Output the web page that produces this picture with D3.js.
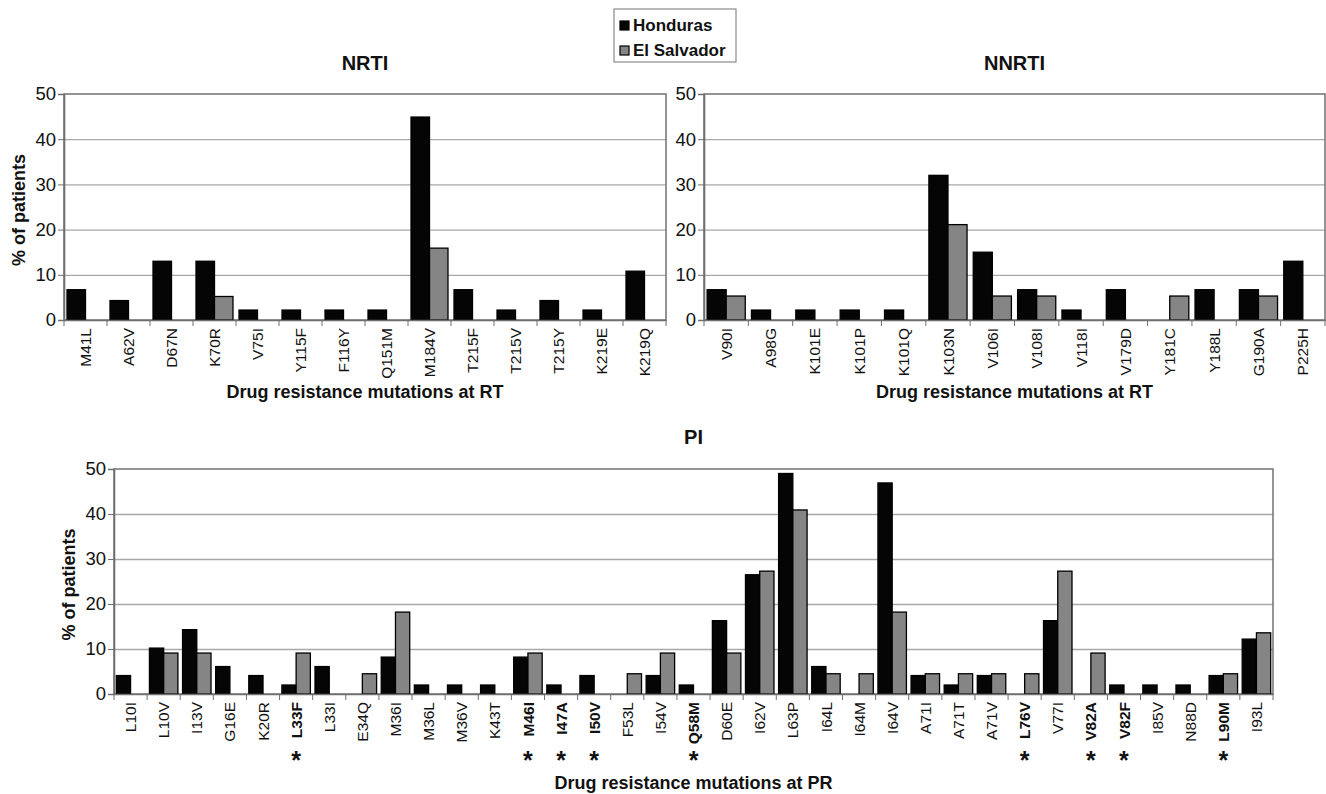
<!DOCTYPE html>
<html>
<head>
<meta charset="utf-8">
<script src="https://cdn.jsdelivr.net/npm/d3@7"></script>
<style>
  body { margin: 0; background: #fff; }
  text { font-family: "Liberation Sans", Arial, sans-serif; fill: #111; }
</style>
</head>
<body>
<div id="chart"></div>
<script>
// values (% of patients)
const nrtiMutations = ["M41L","A62V","D67N","K70R","V75I","Y115F","F116Y","Q151M","M184V","T215F","T215V","T215Y","K219E","K219Q"];
const nrtiHonduras  = [6.7, 4.3, 13.0, 13.0, 2.2, 2.2, 2.2, 2.2, 44.9, 6.7, 2.2, 4.3, 2.2, 10.8];
const nrtiSalvador  = [0, 0, 0, 5.2, 0, 0, 0, 0, 15.9, 0, 0, 0, 0, 0];

const nnrtiMutations = ["V90I","A98G","K101E","K101P","K101Q","K103N","V106I","V108I","V118I","V179D","Y181C","Y188L","G190A","P225H"];
const nnrtiHonduras  = [6.7, 2.2, 2.2, 2.2, 2.2, 32.0, 15.0, 6.7, 2.2, 6.7, 0, 6.7, 6.7, 13.0];
const nnrtiSalvador  = [5.3, 0, 0, 0, 0, 21.1, 5.3, 5.3, 0, 0, 5.3, 0, 5.3, 0];

const piMutations = ["L10I","L10V","I13V","G16E","K20R","L33F","L33I","E34Q","M36I","M36L","M36V","K43T","M46I","I47A","I50V","F53L","I54V","Q58M","D60E","I62V","L63P","I64L","I64M","I64V","A71I","A71T","A71V","L76V","V77I","V82A","V82F","I85V","N88D","L90M","I93L"];
const piHonduras  = [4.1, 10.2, 14.3, 6.1, 4.1, 2.0, 6.1, 0, 8.2, 2.0, 2.0, 2.0, 8.2, 2.0, 4.1, 0, 4.1, 2.0, 16.3, 26.5, 49.0, 6.1, 0, 46.9, 4.1, 2.0, 4.1, 0, 16.3, 0, 2.0, 2.0, 2.0, 4.1, 12.2];
const piSalvador  = [0, 9.1, 9.1, 0, 0, 9.1, 0, 4.5, 18.2, 0, 0, 0, 9.1, 0, 0, 4.5, 9.1, 0, 9.1, 27.3, 40.9, 4.5, 4.5, 18.2, 4.5, 4.5, 4.5, 4.5, 27.3, 9.1, 0, 0, 0, 4.5, 13.6];
// major PI mutations, shown bold with an asterisk
const piMajor = ["L33F","M46I","I47A","I50V","Q58M","L76V","V82A","V82F","L90M"];

const countries = ["Honduras", "El Salvador"];
const yTicks = [0, 10, 20, 30, 40, 50];

const colors = { "Honduras": "#050505", "El Salvador": "#858585" };

const svg = d3.select("#chart").append("svg")
  .attr("width", 1326)
  .attr("height", 794);

function drawPanel(p) {
  const rows = p.cats.map((c, i) => ({ cat: c, "Honduras": p.hon[i], "El Salvador": p.sal[i] }));

  const x = d3.scaleBand().domain(p.cats).range([p.left, p.right]);
  const bw = x.bandwidth();
  const xSub = d3.scaleBand().domain(countries).range([bw * 0.07, bw * 0.93]);
  const y = d3.scaleLinear().domain([0, 50]).range([p.bottom, p.top]);

  const g = svg.append("g");

  // grid lines
  g.append("g")
    .attr("transform", `translate(${p.left},0)`)
    .call(d3.axisLeft(y).tickValues([10, 20, 30, 40]).tickSize(-(p.right - p.left)).tickFormat(""))
    .call(s => s.select(".domain").remove())
    .call(s => s.selectAll("line").attr("stroke", "#a8a8a8").attr("stroke-width", 1.3));

  // frame
  g.append("rect")
    .attr("x", p.left).attr("y", p.top)
    .attr("width", p.right - p.left).attr("height", p.bottom - p.top)
    .attr("fill", "none").attr("stroke", "#7a7a7a").attr("stroke-width", 1.6);

  // bars
  g.selectAll(".grp")
    .data(rows)
    .enter()
    .append("g")
    .attr("transform", d => `translate(${x(d.cat)},0)`)
    .selectAll("rect")
    .data(d => countries.map(k => ({ key: k, value: d[k] })).filter(e => e.value > 0))
    .enter()
    .append("rect")
    .attr("x", e => xSub(e.key))
    .attr("y", e => y(e.value))
    .attr("width", xSub.bandwidth())
    .attr("height", e => y(0) - y(e.value))
    .attr("fill", e => colors[e.key])
    .attr("stroke", "#000")
    .attr("stroke-width", 1.3);

  // y axis
  g.append("g")
    .attr("transform", `translate(${p.left},0)`)
    .call(d3.axisLeft(y).tickValues(yTicks).tickSize(6).tickPadding(2))
    .call(s => s.select(".domain").attr("stroke", "#6f6f6f").attr("stroke-width", 1.6))
    .call(s => s.selectAll("line").attr("stroke", "#6f6f6f"))
    .call(s => s.selectAll("text").attr("font-size", "18.5px").attr("fill", "#111"));

  // x axis with rotated labels
  g.append("g")
    .attr("transform", `translate(0,${p.bottom})`)
    .call(d3.axisBottom(x).tickSize(0).tickPadding(0))
    .call(s => s.select(".domain").attr("stroke", "#6f6f6f").attr("stroke-width", 1.6))
    .call(s => s.selectAll("text")
      .attr("transform", "rotate(-90)")
      .attr("text-anchor", "end")
      .attr("x", -8)
      .attr("y", 0)
      .attr("dy", "0.36em")
      .attr("font-size", "15.5px")
      .attr("fill", "#111")
      .attr("font-weight", d => p.starred.includes(d) ? "bold" : "normal"));

  // tick marks between categories
  g.selectAll(".sep")
    .data(p.cats.concat(["__end"]))
    .enter()
    .append("line")
    .attr("x1", (d, i) => p.left + i * bw)
    .attr("x2", (d, i) => p.left + i * bw)
    .attr("y1", p.bottom)
    .attr("y2", p.bottom + 6)
    .attr("stroke", "#6f6f6f");

  // asterisks
  g.selectAll(".star")
    .data(p.starred)
    .enter()
    .append("text")
    .attr("x", d => x(d) + bw / 2)
    .attr("y", p.starY)
    .attr("text-anchor", "middle")
    .attr("font-size", "25px")
    .attr("font-weight", "bold")
    .text("*");

  // titles
  g.append("text")
    .attr("x", (p.left + p.right) / 2)
    .attr("y", p.titleY)
    .attr("text-anchor", "middle")
    .attr("font-size", "20px")
    .attr("font-weight", "bold")
    .text(p.title);

  g.append("text")
    .attr("x", (p.left + p.right) / 2)
    .attr("y", p.xTitleY)
    .attr("text-anchor", "middle")
    .attr("font-size", "18px")
    .attr("font-weight", "bold")
    .text(p.xTitle);

  if (p.yTitle) {
    g.append("text")
      .attr("transform", `translate(${p.left - 39},${(p.top + p.bottom) / 2 + 3}) rotate(-90)`)
      .attr("text-anchor", "middle")
      .attr("font-size", "18px")
      .attr("font-weight", "bold")
      .text(p.yTitle);
  }
}

drawPanel({
  cats: nrtiMutations, hon: nrtiHonduras, sal: nrtiSalvador, starred: [],
  left: 64, right: 666, top: 94, bottom: 320,
  title: "NRTI", titleY: 70, xTitle: "Drug resistance mutations at RT", xTitleY: 398,
  yTitle: "% of patients", starY: 0
});

drawPanel({
  cats: nnrtiMutations, hon: nnrtiHonduras, sal: nnrtiSalvador, starred: [],
  left: 704, right: 1325, top: 94, bottom: 320,
  title: "NNRTI", titleY: 70, xTitle: "Drug resistance mutations at RT", xTitleY: 398,
  yTitle: null, starY: 0
});

drawPanel({
  cats: piMutations, hon: piHonduras, sal: piSalvador, starred: piMajor,
  left: 114, right: 1273, top: 469, bottom: 694,
  title: "PI", titleY: 444, xTitle: "Drug resistance mutations at PR", xTitleY: 789,
  yTitle: "% of patients", starY: 769
});

// legend
const legend = svg.append("g").attr("transform", "translate(614,9)");
legend.append("rect")
  .attr("width", 122).attr("height", 53)
  .attr("fill", "#fff").attr("stroke", "#8a8a8a").attr("stroke-width", 1.2);
legend.selectAll(".item")
  .data(countries)
  .enter()
  .append("g")
  .attr("transform", (d, i) => `translate(6,${12 + i * 25})`)
  .call(s => s.append("rect")
    .attr("width", 9).attr("height", 9)
    .attr("fill", d => colors[d]).attr("stroke", "#000").attr("stroke-width", 1.2))
  .call(s => s.append("text")
    .attr("x", 13).attr("y", 10)
    .attr("font-size", "17px").attr("font-weight", "bold")
    .text(d => d));
</script>
</body>
</html>
